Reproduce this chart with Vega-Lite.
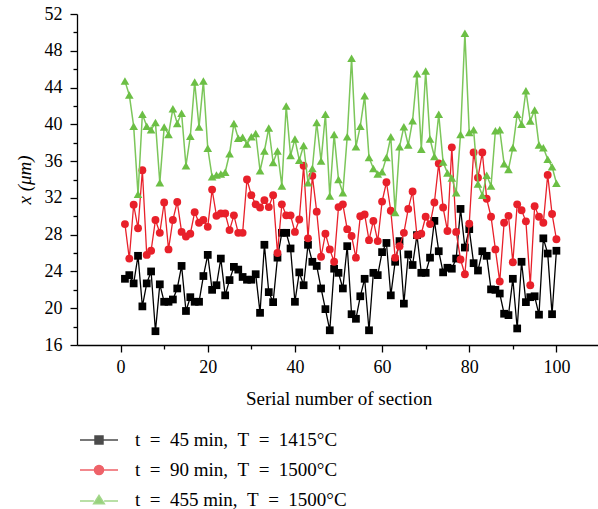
{
  "$schema": "https://vega.github.io/schema/vega-lite/v6.json",
  "width": 523,
  "height": 331,
  "autosize": "none",
  "padding": {"left": 77, "top": 14, "right": 0, "bottom": 164},
  "config": {"view": {"stroke": null}, "font": "Liberation Serif"},
  "data": {"values": [
    {"n":1,"a":23.2,"b":29.15,"c":44.7},{"n":2,"a":23.6,"b":25.4,"c":43.2},{"n":3,"a":22.7,"b":31.25,"c":39.8},{"n":4,"a":25.7,"b":28.7,"c":32.4},{"n":5,"a":20.2,"b":35.0,"c":41.1},
    {"n":6,"a":22.7,"b":25.8,"c":39.8},{"n":7,"a":24.0,"b":26.25,"c":39.4},{"n":8,"a":17.5,"b":29.6,"c":40.2},{"n":9,"a":22.6,"b":28.2,"c":33.65},{"n":10,"a":20.7,"b":31.5,"c":39.7},
    {"n":11,"a":20.7,"b":26.4,"c":38.9},{"n":12,"a":20.95,"b":29.6,"c":41.7},{"n":13,"a":22.15,"b":31.55,"c":40.1},{"n":14,"a":24.6,"b":28.3,"c":41.2},{"n":15,"a":19.7,"b":27.8,"c":35.5},
    {"n":16,"a":21.2,"b":28.1,"c":38.7},{"n":17,"a":20.7,"b":30.45,"c":44.6},{"n":18,"a":20.7,"b":29.3,"c":39.7},{"n":19,"a":23.5,"b":29.6,"c":44.7},{"n":20,"a":25.8,"b":28.85,"c":37.4},
    {"n":21,"a":22.0,"b":32.9,"c":34.3},{"n":22,"a":22.5,"b":30.05,"c":34.5},{"n":23,"a":25.4,"b":30.3,"c":34.6},{"n":24,"a":21.4,"b":30.3,"c":34.8},{"n":25,"a":23.06,"b":28.5,"c":36.8},
    {"n":26,"a":24.5,"b":30.1,"c":40.1},{"n":27,"a":24.2,"b":28.2,"c":38.5},{"n":28,"a":23.4,"b":28.2,"c":38.6},{"n":29,"a":23.1,"b":34.0,"c":37.85},{"n":30,"a":23.1,"b":32.3,"c":38.65},
    {"n":31,"a":23.7,"b":31.3,"c":39.0},{"n":32,"a":19.5,"b":30.95,"c":34.95},{"n":33,"a":26.9,"b":31.75,"c":37.1},{"n":34,"a":21.75,"b":31.0,"c":39.6},{"n":35,"a":20.66,"b":32.3,"c":35.85},
    {"n":36,"a":25.5,"b":26.0,"c":37.1},{"n":37,"a":28.2,"b":31.3,"c":33.3},{"n":38,"a":28.2,"b":30.1,"c":42.0},{"n":39,"a":26.5,"b":30.1,"c":36.6},{"n":40,"a":20.7,"b":28.3,"c":38.4},
    {"n":41,"a":23.9,"b":29.65,"c":36.1},{"n":42,"a":22.5,"b":35.5,"c":37.7},{"n":43,"a":26.9,"b":27.6,"c":33.65},{"n":44,"a":25.05,"b":34.4,"c":35.2},{"n":45,"a":24.6,"b":30.5,"c":40.2},
    {"n":46,"a":22.15,"b":25.6,"c":36.0},{"n":47,"a":19.9,"b":28.1,"c":41.1},{"n":48,"a":17.6,"b":26.4,"c":32.2},{"n":49,"a":24.3,"b":25.05,"c":38.9},{"n":50,"a":23.85,"b":31.0,"c":34.0},
    {"n":51,"a":22.15,"b":31.3,"c":32.55},{"n":52,"a":26.75,"b":28.6,"c":38.65},{"n":53,"a":19.35,"b":27.85,"c":47.2},{"n":54,"a":18.85,"b":25.5,"c":37.55},{"n":55,"a":21.3,"b":30.0,"c":39.8},
    {"n":56,"a":23.2,"b":30.2,"c":43.1},{"n":57,"a":17.6,"b":27.4,"c":36.4},{"n":58,"a":23.85,"b":29.5,"c":35.2},{"n":59,"a":23.6,"b":27.3,"c":34.6},{"n":60,"a":26.1,"b":31.6,"c":34.85},
    {"n":61,"a":27.1,"b":33.7,"c":36.4},{"n":62,"a":21.4,"b":30.6,"c":38.65},{"n":63,"a":25.05,"b":25.5,"c":30.4},{"n":64,"a":27.3,"b":26.75,"c":37.55},{"n":65,"a":20.5,"b":28.2,"c":39.75},
    {"n":66,"a":25.85,"b":30.8,"c":37.75},{"n":67,"a":24.7,"b":32.7,"c":40.4},{"n":68,"a":27.95,"b":27.9,"c":45.5},{"n":69,"a":23.85,"b":28.1,"c":37.3},{"n":70,"a":23.85,"b":29.95,"c":45.8},
    {"n":71,"a":25.5,"b":29.15,"c":38.4},{"n":72,"a":29.5,"b":31.5,"c":36.5},{"n":73,"a":26.2,"b":35.75,"c":41.1},{"n":74,"a":23.9,"b":30.95,"c":35.9},{"n":75,"a":24.4,"b":28.4,"c":34.7},
    {"n":76,"a":24.3,"b":37.5,"c":34.15},{"n":77,"a":25.4,"b":28.3,"c":32.55},{"n":78,"a":30.8,"b":25.3,"c":38.9},{"n":79,"a":26.6,"b":23.7,"c":49.9},{"n":80,"a":28.6,"b":29.2,"c":39.1},
    {"n":81,"a":24.9,"b":36.95,"c":39.4},{"n":82,"a":24.1,"b":34.2,"c":33.5},{"n":83,"a":26.2,"b":36.95,"c":32.3},{"n":84,"a":25.7,"b":31.9,"c":34.45},{"n":85,"a":22.05,"b":29.95,"c":33.3},
    {"n":86,"a":22.0,"b":26.4,"c":39.3},{"n":87,"a":21.6,"b":22.9,"c":39.4},{"n":88,"a":19.4,"b":29.3,"c":35.7},{"n":89,"a":19.25,"b":30.05,"c":35.1},{"n":90,"a":23.2,"b":25.0,"c":37.45},
    {"n":91,"a":17.8,"b":31.3,"c":41.1},{"n":92,"a":25.05,"b":30.65,"c":40.0},{"n":93,"a":20.66,"b":29.45,"c":43.65},{"n":94,"a":21.2,"b":22.5,"c":40.35},{"n":95,"a":21.3,"b":31.1,"c":41.55},
    {"n":96,"a":19.3,"b":29.95,"c":37.75},{"n":97,"a":27.6,"b":29.3,"c":37.45},{"n":98,"a":25.95,"b":34.5,"c":36.2},{"n":99,"a":19.35,"b":30.25,"c":35.4},{"n":100,"a":26.25,"b":27.5,"c":33.6}
  ]},
  "transform": [{"fold": ["a", "b", "c"], "as": ["s", "v"]}],
  "encoding": {
    "x": {
      "field": "n", "type": "quantitative",
      "scale": {"domain": [-10, 110], "nice": false, "zero": false},
      "axis": {
        "values": [0, 10, 20, 30, 40, 50, 60, 70, 80, 90, 100],
        "labelExpr": "datum.value % 20 === 0 ? datum.label : ''",
        "tickSize": {"condition": {"test": "datum.value % 20 === 0", "value": 7}, "value": 4},
        "grid": false, "domainColor": "#000", "tickColor": "#000", "domainWidth": 1.3, "tickWidth": 1.3,
        "labelFont": "Liberation Serif", "labelFontSize": 18, "labelColor": "#000", "labelPadding": 6,
        "title": "Serial number of section", "titleFont": "Liberation Serif", "titleFontSize": 19,
        "titleFontWeight": "normal", "titleColor": "#000", "titlePadding": 13
      }
    },
    "y": {
      "field": "v", "type": "quantitative",
      "scale": {"domain": [16, 52], "nice": false, "zero": false},
      "axis": {
        "values": [16, 18, 20, 22, 24, 26, 28, 30, 32, 34, 36, 38, 40, 42, 44, 46, 48, 50, 52],
        "labelExpr": "datum.value % 4 === 0 ? datum.label : ''",
        "tickSize": {"condition": {"test": "datum.value % 4 === 0", "value": 7}, "value": 4},
        "grid": false, "domainColor": "#000", "tickColor": "#000", "domainWidth": 1.3, "tickWidth": 1.3,
        "labelFont": "Liberation Serif", "labelFontSize": 18, "labelColor": "#000", "labelPadding": 8,
        "title": "x (μm)", "titleFont": "Liberation Serif", "titleFontSize": 19, "titleFontStyle": "italic",
        "titleFontWeight": "normal", "titleColor": "#000", "titlePadding": 10
      }
    }
  },
  "layer": [
    {"transform": [{"filter": "datum.s === 'a'"}], "mark": {"type": "line", "color": "#000000", "strokeWidth": 1.3}},
    {"transform": [{"filter": "datum.s === 'a'"}], "mark": {"type": "point", "shape": "square", "filled": true, "color": "#000000", "size": 60, "opacity": 1}},
    {"transform": [{"filter": "datum.s === 'b'"}], "mark": {"type": "line", "color": "#e8202a", "strokeWidth": 1.3}},
    {"transform": [{"filter": "datum.s === 'b'"}], "mark": {"type": "point", "shape": "circle", "filled": true, "color": "#e8202a", "size": 62, "opacity": 1}},
    {"transform": [{"filter": "datum.s === 'c'"}], "mark": {"type": "line", "color": "#7cc65a", "strokeWidth": 1.5}},
    {"transform": [{"filter": "datum.s === 'c'"}], "mark": {"type": "point", "shape": "triangle-up", "filled": true, "color": "#6cbf45", "size": 75, "opacity": 1}},
    {
      "transform": [{"filter": "datum.n < 0"}],
      "mark": {"type": "point", "filled": true},
      "encoding": {
        "color": {
          "field": "s", "type": "nominal",
          "scale": {"domain": ["a", "b", "c"], "range": ["#000000", "#e8202a", "#6cbf45"]},
          "legend": {
            "title": null, "orient": "none", "legendX": 2, "legendY": 406, "direction": "vertical", "padding": 0,
            "symbolSize": 1444, "symbolStrokeWidth": 1.5, "labelOffset": 16, "rowPadding": -12.5,
            "labelFont": "Liberation Serif", "labelFontSize": 19, "labelColor": "#000", "labelLimit": 400,
            "labelExpr": "datum.value === 'a' ? 't\u2002=\u200245 min,\u2002T\u2002=\u20021415°C' : datum.value === 'b' ? 't\u2002=\u200290 min,\u2002T\u2002=\u20021500°C' : 't\u2002=\u2002455 min,\u2002T\u2002=\u20021500°C'"
          }
        },
        "stroke": {
          "field": "s", "type": "nominal",
          "scale": {"domain": ["a", "b", "c"], "range": ["#000000", "#e8202a", "#7cc65a"]},
          "legend": {
            "title": null, "orient": "none", "legendX": 2, "legendY": 406, "direction": "vertical", "padding": 0,
            "symbolSize": 1444, "symbolStrokeWidth": 1.5, "labelOffset": 16, "rowPadding": -12.5,
            "labelFont": "Liberation Serif", "labelFontSize": 19, "labelColor": "#000", "labelLimit": 400,
            "labelExpr": "datum.value === 'a' ? 't\u2002=\u200245 min,\u2002T\u2002=\u20021415°C' : datum.value === 'b' ? 't\u2002=\u200290 min,\u2002T\u2002=\u20021500°C' : 't\u2002=\u2002455 min,\u2002T\u2002=\u20021500°C'"
          }
        },
        "shape": {
          "field": "s", "type": "nominal",
          "scale": {"domain": ["a", "b", "c"], "range": [
            "M-1,0H-0.21M0.21,0H1M-0.21,-0.21H0.21V0.21H-0.21Z",
            "M-1,0H-0.24M0.24,0H1M-0.24,0A0.24,0.24,0,1,0,0.24,0A0.24,0.24,0,1,0,-0.24,0Z",
            "M-1,0.05H-0.27M0.27,0.05H1M0,-0.24L0.28,0.2H-0.28Z"
          ]},
          "legend": {
            "title": null, "orient": "none", "legendX": 2, "legendY": 406, "direction": "vertical", "padding": 0,
            "symbolSize": 1444, "symbolStrokeWidth": 1.5, "labelOffset": 16, "rowPadding": -12.5,
            "labelFont": "Liberation Serif", "labelFontSize": 19, "labelColor": "#000", "labelLimit": 400,
            "labelExpr": "datum.value === 'a' ? 't\u2002=\u200245 min,\u2002T\u2002=\u20021415°C' : datum.value === 'b' ? 't\u2002=\u200290 min,\u2002T\u2002=\u20021500°C' : 't\u2002=\u2002455 min,\u2002T\u2002=\u20021500°C'"
          }
        }
      }
    }
  ]
}
